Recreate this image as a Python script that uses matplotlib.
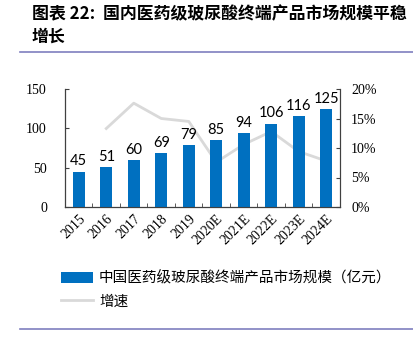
import numpy as np
import matplotlib
matplotlib.use('Agg')
import matplotlib.pyplot as plt
from matplotlib.lines import Line2D

years = ['2015', '2016', '2017', '2018', '2019', '2020E', '2021E', '2022E', '2023E', '2024E']
market = [45, 51, 60, 69, 79, 85, 94, 106, 116, 125]
growth = [np.nan, 13.3, 17.6, 15.0, 14.5, 7.6, 10.6, 12.8, 9.4, 7.8]

bar_name = '中国医药级玻尿酸终端产品市场规模（亿元）'
line_name = '增速'
title = '图表 22:  国内医药级玻尿酸终端产品市场规模平稳\n增长'

cjk = ['Noto Sans CJK SC', 'DejaVu Sans']
serif = 'Liberation Serif'

fig = plt.figure(figsize=(4.14, 3.37), dpi=100)
W, H = 414, 337

# title and rules
fig.text(32 / W, 1 - 5 / H, title, ha='left', va='top', fontsize=12.2,
         fontweight='bold', family=cjk, linespacing=1.3)
fig.add_artist(Line2D([20 / W, 1], [1 - 52 / H] * 2, color='#7F7FBF', lw=1.2))
fig.add_artist(Line2D([20 / W, 1], [1 - 329 / H] * 2, color='#7F7FBF', lw=1.2))

ax1 = fig.add_axes([65 / W, 1 - 207 / H, 275 / W, 118 / H])
x = np.arange(len(years))
bars = ax1.bar(x, market, width=0.44, color='#0070C0', label=bar_name)
for xi, v in zip(x, market):
    ax1.text(xi, v + 4, str(v), ha='center', va='bottom', fontsize=10.5, family='Lato')

ax1.set_xlim(-0.5, len(years) - 0.5)
ax1.set_ylim(0, 150)
ax1.set_yticks([0, 50, 100, 150])
ax1.set_xticks(x)
ax1.set_xticklabels(years, rotation=45, ha='right', rotation_mode='anchor',
                    family=serif, fontsize=10)
ax1.set_xticks(np.arange(-0.5, len(years)), minor=True)
ax1.tick_params(axis='x', which='major', length=0, pad=4)
ax1.tick_params(axis='x', which='minor', direction='in', length=3, color='#404040')
ax1.tick_params(axis='y', direction='in', length=3, color='#404040', labelsize=10, pad=13)
for lab in ax1.get_yticklabels():
    lab.set_family(serif)
ax1.spines['top'].set_visible(False)
for s in ['left', 'bottom', 'right']:
    ax1.spines[s].set_color('#404040')

ax2 = ax1.twinx()
line, = ax2.plot(x, growth, color='#D9D9D9', lw=2, label=line_name)
ax2.set_ylim(0, 20)
ax2.set_yticks([0, 5, 10, 15, 20])
ax2.set_yticklabels(['0%', '5%', '10%', '15%', '20%'], family=serif)
ax2.tick_params(axis='y', direction='in', length=3, color='#404040', labelsize=10, pad=8)
ax2.spines['top'].set_visible(False)
ax2.spines['right'].set_color('#404040')
ax1.set_zorder(ax2.get_zorder() + 1)
ax1.patch.set_visible(False)

fig.legend([bars, line], [bar_name, line_name], loc='upper left',
           bbox_to_anchor=(48 / W, 1 - 258 / H), frameon=False,
           prop={'family': cjk, 'size': 10.5}, handlelength=2.2,
           handleheight=0.8, labelspacing=0.6, handletextpad=0.4)

fig.savefig('out.png', dpi=100)
